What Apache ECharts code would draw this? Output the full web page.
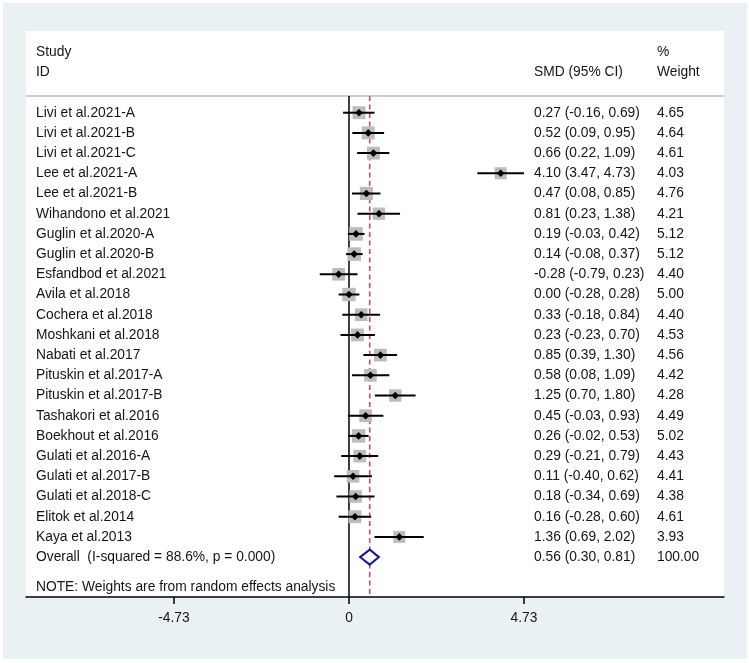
<!DOCTYPE html>
<html>
<head>
<meta charset="utf-8">
<script src="https://cdn.jsdelivr.net/npm/echarts@6/dist/echarts.min.js"></script>
<style>
  html, body { margin: 0; padding: 0; background: #ffffff; }
  #bg { position: absolute; left: 3px; top: 3px; width: 744px; height: 656px; background: #e9f1f3; }
  #chart { position: absolute; left: 0; top: 0; width: 749px; height: 663px; }
</style>
</head>
<body>
<div id="bg"></div>
<div id="chart"></div>
<script>
// ---------------- data ----------------
const studies = [
  'Livi et al.2021-A', 'Livi et al.2021-B', 'Livi et al.2021-C', 'Lee et al.2021-A',
  'Lee et al.2021-B', 'Wihandono et al.2021', 'Guglin et al.2020-A', 'Guglin et al.2020-B',
  'Esfandbod et al.2021', 'Avila et al.2018', 'Cochera et al.2018', 'Moshkani et al.2018',
  'Nabati et al.2017', 'Pituskin et al.2017-A', 'Pituskin et al.2017-B', 'Tashakori et al.2016',
  'Boekhout et al.2016', 'Gulati et al.2016-A', 'Gulati et al.2017-B', 'Gulati et al.2018-C',
  'Elitok et al.2014', 'Kaya et al.2013'
];
const smd    = [0.27, 0.52, 0.66, 4.10, 0.47, 0.81, 0.19, 0.14, -0.28, 0.00, 0.33, 0.23, 0.85, 0.58, 1.25, 0.45, 0.26, 0.29, 0.11, 0.18, 0.16, 1.36];
const ciLow  = [-0.16, 0.09, 0.22, 3.47, 0.08, 0.23, -0.03, -0.08, -0.79, -0.28, -0.18, -0.23, 0.39, 0.08, 0.70, -0.03, -0.02, -0.21, -0.40, -0.34, -0.28, 0.69];
const ciHigh = [0.69, 0.95, 1.09, 4.73, 0.85, 1.38, 0.42, 0.37, 0.23, 0.28, 0.84, 0.70, 1.30, 1.09, 1.80, 0.93, 0.53, 0.79, 0.62, 0.69, 0.60, 2.02];
const weights = [4.65, 4.64, 4.61, 4.03, 4.76, 4.21, 5.12, 5.12, 4.40, 5.00, 4.40, 4.53, 4.56, 4.42, 4.28, 4.49, 5.02, 4.43, 4.41, 4.38, 4.61, 3.93];

const overallLabel = 'Overall  (I-squared = 88.6%, p = 0.000)';
const overallEst = 0.56;
const overallLow = 0.30;
const overallHigh = 0.81;
const overallWeight = 100.00;

const noteText = 'NOTE: Weights are from random effects analysis';
const headerStudy = ['Study', 'ID'];
const headerEffect = 'SMD (95% CI)';
const headerWeight = ['%', 'Weight'];
const xTicks = [-4.73, 0, 4.73];

// ---------------- layout ----------------
const X_MIN = -8.730, X_MAX = 10.136;      // axis extent (panel edges)
const Y_MIN = -4.045, Y_MAX = 23.975;      // row extent (panel edges)
const COL_NAME = 36, COL_CI = 534, COL_W = 657;
const ROW_HEAD1 = -3, ROW_HEAD2 = -2, ROW_SEP = -0.83;
const ROW_OVERALL = studies.length, ROW_NOTE = studies.length + 1.48;
const FONT = '"Liberation Sans", Arial, sans-serif';
const FS = 13.8;
const TXT = '#151515';

const f2 = v => v.toFixed(2);
const ciText = (e, l, h) => f2(e) + ' (' + f2(l) + ', ' + f2(h) + ')';

// text rows
const textRows = [];
textRows.push({ row: ROW_HEAD1, name: headerStudy[0], ci: '', w: headerWeight[0] });
textRows.push({ row: ROW_HEAD2, name: headerStudy[1], ci: headerEffect, w: headerWeight[1] });
studies.forEach((s, i) => textRows.push({ row: i, name: s, ci: ciText(smd[i], ciLow[i], ciHigh[i]), w: f2(weights[i]) }));
textRows.push({ row: ROW_OVERALL, name: overallLabel, ci: ciText(overallEst, overallLow, overallHigh), w: f2(overallWeight) });
textRows.push({ row: ROW_NOTE, name: noteText, ci: '', w: '' });

function txt(x, y, s) {
  return { type: 'text', x: x, y: y, style: { text: s, font: FS + 'px ' + FONT, fill: TXT, textVerticalAlign: 'middle', textAlign: 'left' } };
}

const chart = echarts.init(document.getElementById('chart'), null, { renderer: 'canvas' });

const option = {
  backgroundColor: 'transparent',
  animation: false,
  grid: { left: 26, right: 25, top: 31, bottom: 66, show: true, backgroundColor: '#ffffff', borderWidth: 0 },
  xAxis: {
    type: 'value', min: X_MIN, max: X_MAX,
    splitLine: { show: false },
    axisLine: { show: true, onZero: false, lineStyle: { color: '#000', width: 1.5 } },
    axisTick: { show: true, customValues: xTicks, length: 7, lineStyle: { color: '#000', width: 1.5 } },
    axisLabel: { show: true, customValues: xTicks, margin: 14, fontSize: FS, fontFamily: FONT, color: TXT,
      formatter: v => (v === 0 ? '0' : v.toFixed(2)) }
  },
  yAxis: { type: 'value', min: Y_MIN, max: Y_MAX, inverse: true, show: false },
  series: [
    {
      // reference lines
      type: 'custom', z: 2, silent: true,
      data: [[0]],
      renderItem: function (params, api) {
        const sepL = api.coord([X_MIN, ROW_SEP]);
        const sepR = api.coord([X_MAX, ROW_SEP]);
        const z0 = api.coord([0, ROW_SEP]);
        const z1 = api.coord([0, Y_MAX]);
        const o0 = api.coord([overallEst, ROW_SEP]);
        const o1 = api.coord([overallEst, Y_MAX]);
        return { type: 'group', children: [
          { type: 'line', shape: { x1: sepL[0], y1: sepL[1], x2: sepR[0], y2: sepR[1] }, style: { stroke: '#cfcfcf', lineWidth: 2 } },
          { type: 'line', shape: { x1: z0[0], y1: z0[1], x2: z1[0], y2: z1[1] }, style: { stroke: '#000', lineWidth: 1.5 } },
          { type: 'line', shape: { x1: o0[0], y1: o0[1], x2: o1[0], y2: o1[1] }, style: { stroke: '#b85560', lineWidth: 1.6, lineDash: [5, 3.5] } }
        ] };
      }
    },
    {
      // study markers
      type: 'custom', z: 3, silent: true,
      data: studies.map((s, i) => [smd[i], i, ciLow[i], ciHigh[i], weights[i]]),
      renderItem: function (params, api) {
        const row = api.value(1);
        const p = api.coord([api.value(0), row]);
        const lo = api.coord([api.value(2), row]);
        const hi = api.coord([api.value(3), row]);
        const sz = 6.0 * Math.sqrt(api.value(4));
        const d = 3.8;
        return { type: 'group', children: [
          { type: 'rect', shape: { x: p[0] - sz / 2, y: p[1] - sz / 2, width: sz, height: sz }, style: { fill: '#bcbcbc' } },
          { type: 'line', shape: { x1: lo[0], y1: p[1], x2: hi[0], y2: p[1] }, style: { stroke: '#000', lineWidth: 2 } },
          { type: 'polygon', shape: { points: [[p[0] - d, p[1]], [p[0], p[1] - d], [p[0] + d, p[1]], [p[0], p[1] + d]] }, style: { fill: '#000' } }
        ] };
      }
    },
    {
      // overall diamond
      type: 'custom', z: 4, silent: true,
      data: [[overallEst, ROW_OVERALL, overallLow, overallHigh]],
      renderItem: function (params, api) {
        const row = api.value(1);
        const p = api.coord([api.value(0), row]);
        const lo = api.coord([api.value(2), row]);
        const hi = api.coord([api.value(3), row]);
        const h = 7.5;
        return { type: 'polygon', shape: { points: [[lo[0], p[1]], [p[0], p[1] - h], [hi[0], p[1]], [p[0], p[1] + h]] },
          style: { fill: '#ffffff', stroke: '#1a1a7a', lineWidth: 2 } };
      }
    },
    {
      // table text
      type: 'custom', z: 5, silent: true,
      data: textRows.map(r => [0, r.row]),
      renderItem: function (params, api) {
        const r = textRows[params.dataIndex];
        const y = api.coord([0, api.value(1)])[1];
        const kids = [txt(COL_NAME, y, r.name)];
        if (r.ci) kids.push(txt(COL_CI, y, r.ci));
        if (r.w) kids.push(txt(COL_W, y, r.w));
        return { type: 'group', children: kids };
      }
    }
  ]
};
chart.setOption(option);
</script>
</body>
</html>
